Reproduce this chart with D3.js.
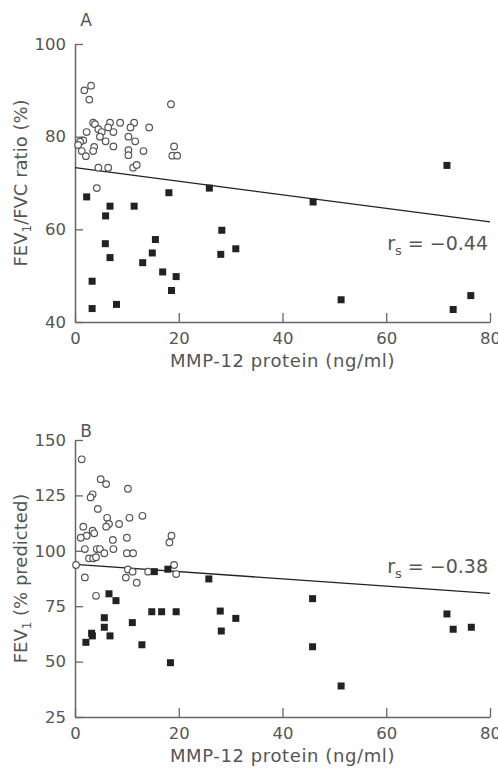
<!DOCTYPE html>
<html>
<head>
<meta charset="utf-8">
<script src="https://cdn.jsdelivr.net/npm/d3@7"></script>
<style>
  body { margin: 0; background: #fff; }
  svg text { font-family: "DejaVu Sans", sans-serif; fill: #555; }
</style>
</head>
<body>
<div id="chart"></div>
<script>
// MMP-12 protein (ng/ml) vs lung function, open circles = controls, squares = COPD
const xTicks = [0, 20, 40, 60, 80];

// panel A: FEV1/FVC ratio (%)
const ratioTicks = [40, 60, 80, 100];
const ratioCircles = [
  [1.8, 90.0], [3.1, 91.0], [2.75, 88.0], [18.5, 87.0], [3.5, 83.0], [3.85, 82.7],
  [6.75, 83.0], [8.7, 83.0], [11.4, 83.0], [10.7, 82.0], [14.3, 82.0], [6.4, 82.0],
  [4.5, 81.6], [2.25, 81.0], [5.15, 81.0], [7.4, 81.0], [10.3, 80.0], [4.8, 80.0],
  [11.6, 79.0], [5.9, 79.0], [1.6, 79.2], [1.0, 78.9], [0.6, 78.2], [3.7, 77.8],
  [7.4, 77.9], [19.1, 77.9], [1.3, 76.9], [3.5, 76.9], [10.3, 77.1], [13.2, 76.9],
  [2.1, 75.8], [10.3, 76.0], [18.75, 75.9], [19.7, 75.9], [4.5, 73.3], [6.4, 73.3],
  [11.2, 73.3], [11.9, 73.9], [4.2, 68.9]
];
const ratioSquares = [
  [2.25, 67.0], [6.75, 65.0], [5.9, 62.9], [11.4, 65.0], [18.1, 67.9], [5.85, 56.9],
  [6.75, 53.9], [15.5, 57.8], [14.9, 54.9], [13.05, 52.8], [16.9, 50.8], [19.5, 49.8],
  [18.6, 46.8], [3.3, 48.8], [3.3, 42.9], [8.0, 43.8], [25.9, 68.9], [28.3, 59.8],
  [28.1, 54.6], [31.0, 55.8], [45.9, 65.9], [71.7, 73.8], [51.3, 44.8], [72.9, 42.7],
  [76.3, 45.7]
];
const ratioFit = [73.3, 61.6]; // fitted value at x = 0 and x = 80

// panel B: FEV1 (% predicted)
const predTicks = [25, 50, 75, 100, 125, 150];
const predCircles = [
  [1.3, 141.3], [4.95, 132.3], [6.0, 130.1], [10.2, 128.0], [3.4, 125.5], [3.0, 124.1],
  [4.4, 118.9], [6.2, 114.9], [10.5, 114.9], [13.0, 115.8], [6.55, 112.1], [6.0, 110.9],
  [8.5, 112.1], [1.6, 110.9], [3.4, 109.1], [3.7, 107.9], [2.25, 106.8], [1.1, 105.9],
  [7.3, 104.9], [10.0, 105.9], [18.6, 106.8], [18.2, 103.8], [1.9, 100.8], [4.2, 100.8],
  [4.8, 100.8], [5.65, 98.9], [7.4, 100.8], [10.0, 98.9], [11.2, 98.9], [2.7, 96.6],
  [3.5, 96.6], [4.05, 97.1], [0.2, 93.6], [1.9, 88.0], [10.2, 91.6], [11.1, 90.6],
  [19.1, 93.6], [19.5, 89.5], [14.1, 90.6], [9.8, 87.9], [11.9, 85.6], [4.05, 79.7]
];
const predSquares = [
  [15.3, 90.6], [17.9, 91.7], [6.55, 80.6], [7.9, 77.5], [14.8, 72.5], [16.7, 72.5],
  [19.5, 72.5], [5.65, 69.8], [11.05, 67.6], [5.65, 65.5], [3.2, 62.8], [3.35, 61.6],
  [2.1, 58.7], [6.75, 61.6], [12.9, 57.6], [18.4, 49.5], [25.8, 87.3], [28.0, 72.8],
  [31.0, 69.5], [28.2, 63.8], [45.8, 78.4], [45.8, 56.7], [71.7, 71.5], [72.9, 64.6],
  [76.4, 65.5], [51.3, 39.0]
];
const predFit = [93.9, 80.8];

const width = 498, height = 768;
const left = 75, right = 490;

const svg = d3.select("#chart").append("svg")
  .attr("width", width)
  .attr("height", height);

function panel(opts) {
  const x = d3.scaleLinear().domain([0, 80]).range([left, right]);
  const y = d3.scaleLinear().domain(opts.domain).range([opts.bottom, opts.top]);
  const g = svg.append("g");

  // axes with inward ticks
  g.append("g")
    .attr("transform", `translate(0,${opts.bottom})`)
    .call(d3.axisBottom(x).tickValues(xTicks).tickSize(-9).tickPadding(10).tickSizeOuter(0))
    .call(a => a.select(".domain").attr("stroke", "#666").attr("stroke-width", 1.5));
  g.append("g")
    .attr("transform", `translate(${left},0)`)
    .call(d3.axisLeft(y).tickValues(opts.ticks).tickSize(-8).tickPadding(9).tickSizeOuter(0))
    .call(a => a.select(".domain").attr("stroke", "#666").attr("stroke-width", 1.5));

  g.selectAll(".tick line").attr("stroke", "#666").attr("stroke-width", 1.3);
  g.selectAll(".tick text")
    .style("font-family", "DejaVu Sans, sans-serif")
    .style("font-size", "16.5px")
    .attr("fill", "#555");

  // regression line
  g.append("line")
    .attr("x1", x(0)).attr("y1", y(opts.fit[0]))
    .attr("x2", x(80)).attr("y2", y(opts.fit[1]))
    .attr("stroke", "#222").attr("stroke-width", 1.3);

  // open circles
  g.selectAll(".c").data(opts.circles).join("circle")
    .attr("cx", d => x(d[0]))
    .attr("cy", d => y(d[1]))
    .attr("r", 3.3)
    .attr("fill", "#fff")
    .attr("stroke", "#555")
    .attr("stroke-width", 1.2);

  // filled squares
  const s = 7;
  g.selectAll(".s").data(opts.squares).join("rect")
    .attr("x", d => x(d[0]) - s / 2)
    .attr("y", d => y(d[1]) - s / 2)
    .attr("width", s).attr("height", s)
    .attr("fill", "#222");

  // panel letter
  g.append("text")
    .attr("x", 86).attr("y", opts.letterY)
    .attr("text-anchor", "middle")
    .style("font-size", "17px")
    .text(opts.letter);

  // correlation label
  const r = g.append("text")
    .attr("x", 488).attr("y", opts.rsY)
    .attr("text-anchor", "end")
    .style("font-size", "19px");
  r.append("tspan").text("r");
  r.append("tspan").attr("dy", 5).style("font-size", "13px").text("s");
  r.append("tspan").attr("dy", -5).text(" = \u22120." + opts.rs);

  // x title
  g.append("text")
    .attr("x", (left + right) / 2).attr("y", opts.bottom + 45)
    .attr("text-anchor", "middle")
    .style("font-size", "18px")
    .style("letter-spacing", "0.6px")
    .text("MMP-12 protein (ng/ml)");

  // y title
  const yt = g.append("text")
    .attr("transform", `translate(27,${(opts.top + opts.bottom) / 2}) rotate(-90)`)
    .attr("text-anchor", "middle")
    .style("font-size", "18px");
  yt.append("tspan").text("FEV");
  yt.append("tspan").attr("dy", 4).style("font-size", "12px").text("1");
  yt.append("tspan").attr("dy", -4).text(opts.yRest);
}

panel({
  letter: "A", letterY: 26, domain: [40, 100], ticks: ratioTicks, top: 44, bottom: 322,
  circles: ratioCircles, squares: ratioSquares, fit: ratioFit,
  rs: "44", rsY: 250, yRest: "/FVC ratio (%)"
});

panel({
  letter: "B", letterY: 437, domain: [25, 150], ticks: predTicks, top: 440, bottom: 717,
  circles: predCircles, squares: predSquares, fit: predFit,
  rs: "38", rsY: 573, yRest: " (% predicted)"
});
</script>
</body>
</html>
